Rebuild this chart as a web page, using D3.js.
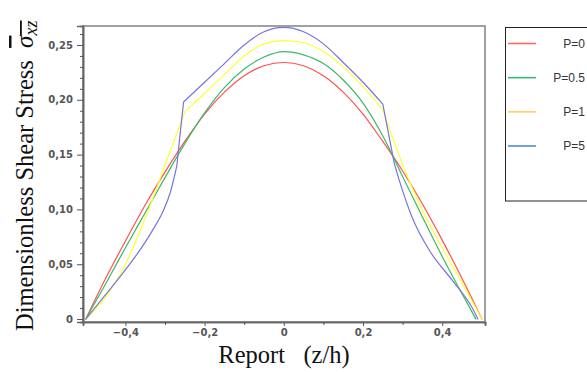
<!DOCTYPE html>
<html>
<head>
<meta charset="utf-8">
<title>shear stress</title>
<script src="https://d3js.org/d3.v7.min.js"></script>
<style>
body{ margin:0; background:#fff; }
svg{ display:block; }
.tick text{ font-family:"DejaVu Sans", Verdana, sans-serif; font-size:10px; font-weight:bold; fill:#555; }
.tick line{ stroke:#555; }
.title{ font-family:"Liberation Serif", "Times New Roman", serif; font-size:24.5px; fill:#111; }
.leg text{ font-family:"Liberation Sans", Arial, sans-serif; font-size:12px; fill:#333; }
</style>
</head>
<body>
<svg id="chart"></svg>
<script>
var width = 587, height = 372;

// ---- data ----
var zGrid  = [-0.5,-0.45,-0.4,-0.35,-0.3,-0.25,-0.2,-0.15,-0.1,-0.05,0,0.05,0.1,0.15,0.2,0.25,0.3,0.35,0.4,0.45,0.5];
var zGreen = [-0.5,-0.45,-0.4,-0.35,-0.3,-0.25,-0.2,-0.15,-0.1,-0.05,0,0.05,0.1,0.15,0.2,0.25,0.3,0.35,0.4,0.45,0.485];
var zBlue  = [-0.5,-0.455,-0.404,-0.371,-0.333,-0.304,-0.287,-0.27,-0.262,-0.253,-0.2,-0.15,-0.1,-0.05,0,0.05,0.1,0.15,0.2,0.25,0.265,0.279,0.292,0.325,0.367,0.426,0.476,0.49];

var tauP0  = [0,0.037,0.071,0.104,0.134,0.162,0.187,0.207,0.222,0.231,0.234,0.231,0.222,0.207,0.187,0.162,0.135,0.105,0.072,0.037,0];
var tauP05 = [0,0.032,0.065,0.097,0.129,0.160,0.188,0.211,0.228,0.239,0.244,0.241,0.233,0.218,0.197,0.167,0.130,0.093,0.057,0.023,0];
var tauP1  = [0,0.020,0.050,0.092,0.140,0.189,0.206,0.223,0.240,0.251,0.254,0.252,0.244,0.230,0.212,0.191,0.141,0.099,0.065,0.033,0];
var tauP5  = [0,0.020,0.043,0.059,0.080,0.099,0.115,0.140,0.168,0.198,0.216,0.233,0.250,0.262,0.266,0.262,0.251,0.234,0.216,0.196,0.168,0.142,0.126,0.092,0.063,0.035,0.010,0];

// where the curves have a corner (layer interfaces)
var kinksP1 = [-0.25, 0.25];
var kinksP5 = [-0.27, -0.253, 0.25, 0.279];

var seriesNames  = ["P=0","P=0.5","P=1","P=5"];
var lineColors   = ["#ff5050","#3cb96a","#ffff30","#7676dc"];
var legendColors = ["#ff6868","#3cb878","#ffd25a","#4a8fd2"];

var xTicks = [-0.4,-0.2,0,0.2,0.4];
var xTickLabels = ["\u22120,4","\u22120,2","0","0,2","0,4"];
var xMinor = [-0.3,-0.1,0.1,0.3];
var yTicks = [0,0.05,0.10,0.15,0.20,0.25];
var yTickLabels = ["0","0,05","0,10","0,15","0,20","0,25"];
var yMinor = [0.01,0.02,0.03,0.04,0.06,0.07,0.08,0.09,0.11,0.12,0.13,0.14,0.16,0.17,0.18,0.19,0.21,0.22,0.23,0.24,0.26];

var series = [
	{name: seriesNames[0], z: zGrid,  v: tauP0,  kinks: []},
	{name: seriesNames[1], z: zGreen, v: tauP05, kinks: []},
	{name: seriesNames[2], z: zGrid,  v: tauP1,  kinks: kinksP1},
	{name: seriesNames[3], z: zBlue,  v: tauP5,  kinks: kinksP5}
];

var svg = d3.select("#chart").attr("width", width).attr("height", height);

var x = d3.scaleLinear().domain([-0.507, 0.508]).range([83, 485]);
var y = d3.scaleLinear().domain([-0.0027, 0.2673]).range([322, 26]);

// frame
svg.append("rect")
	.attr("x", x.range()[0]).attr("y", y.range()[1])
	.attr("width", x.range()[1] - x.range()[0])
	.attr("height", y.range()[0] - y.range()[1])
	.attr("fill", "none").attr("stroke", "#8a8a8a").attr("stroke-width", 1.6);

// y axis
var gy = svg.append("g").attr("transform", "translate(" + x.range()[0] + ",0)");
gy.call(d3.axisLeft(y).tickValues(yTicks).tickSize(6).tickPadding(4)
	.tickFormat(function(d, i){ return yTickLabels[i]; }));
gy.append("g").call(d3.axisLeft(y).tickValues(yMinor).tickSize(3).tickFormat(""));
gy.selectAll(".domain").attr("stroke", "#666").attr("stroke-width", 1.6);

// x axis
var gx = svg.append("g").attr("transform", "translate(0," + y.range()[0] + ")");
gx.call(d3.axisBottom(x).tickValues(xTicks).tickSize(4).tickPadding(3)
	.tickFormat(function(d, i){ return xTickLabels[i]; }));
gx.append("g").call(d3.axisBottom(x).tickValues(xMinor).tickSize(3).tickFormat(""));
gx.selectAll(".domain").attr("stroke", "#666").attr("stroke-width", 1.6);

// curves: smooth between corners, sharp at the kinks
var line = d3.line()
	.x(function(d){ return x(d[0]); })
	.y(function(d){ return y(d[1]); })
	.curve(d3.curveMonotoneX);

function pathFor(s){
	var pts = s.z.map(function(z, i){ return [z, s.v[i]]; });
	var bounds = [s.z[0]].concat(s.kinks, [s.z[s.z.length - 1]]);
	var d = "";
	for(var k = 0; k < bounds.length - 1; k++){
		var piece = pts.filter(function(p){ return p[0] >= bounds[k] - 1e-9 && p[0] <= bounds[k+1] + 1e-9; });
		d += line(piece);
	}
	return d;
}

svg.append("g").selectAll("path")
	.data(series)
	.enter().append("path")
	.attr("d", pathFor)
	.attr("fill", "none")
	.attr("stroke", function(s, i){ return lineColors[i]; })
	.attr("stroke-width", 1.2)
	.attr("stroke-linecap", "round");

// axis titles
svg.append("text").attr("class", "title")
	.attr("x", 284).attr("y", 363)
	.attr("text-anchor", "middle")
	.text("Report\u00a0\u00a0\u00a0(z/h)");

var yt = svg.append("text").attr("class", "title")
	.attr("transform", "translate(33,331) rotate(-90)")
	.attr("text-anchor", "start");
yt.append("tspan").text("Dimensionless Shear Stress\u00a0\u00a0");
var sig = yt.append("tspan").style("text-decoration", "overline");
sig.append("tspan").attr("font-style", "italic").attr("font-size", "25px").text("\u03c3");
sig.append("tspan").attr("font-style", "italic").attr("font-size", "18px").attr("dy", 4).text("xz");

// legend
var legend = svg.append("g").attr("class", "leg");
legend.append("rect")
	.attr("x", 505.5).attr("y", 27.5).attr("width", 100).attr("height", 173.5)
	.attr("fill", "none").attr("stroke", "#222").attr("stroke-width", 1);

var ly = d3.scalePoint().domain(seriesNames).range([43.5, 146]);
var item = legend.selectAll(".item").data(seriesNames).enter().append("g")
	.attr("transform", function(d){ return "translate(0," + ly(d) + ")"; });
item.append("line")
	.attr("x1", 508).attr("x2", 536)
	.attr("stroke", function(d, i){ return legendColors[i]; })
	.attr("stroke-width", 1.6);
item.append("text")
	.attr("x", 585).attr("dy", "0.35em")
	.attr("text-anchor", "end")
	.text(function(d){ return d; });
</script>
</body>
</html>
